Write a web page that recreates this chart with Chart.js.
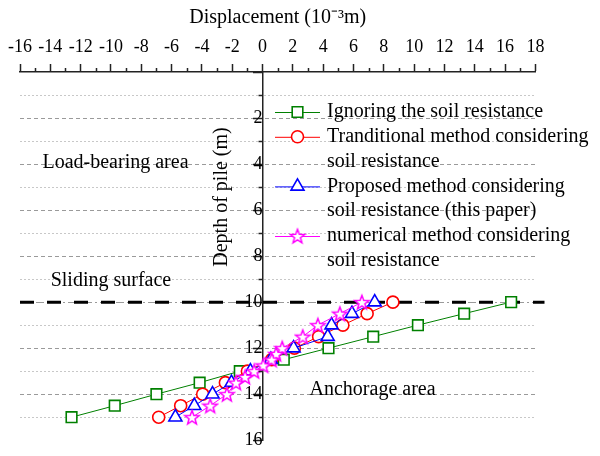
<!DOCTYPE html>
<html>
<head>
<meta charset="utf-8">
<script src="https://cdn.jsdelivr.net/npm/chart.js@4.4.0/dist/chart.umd.min.js"></script>
<style>
  html, body { margin: 0; padding: 0; background: #fff; }
  #wrap { width: 600px; height: 456px; }
</style>
</head>
<body>
<div id="wrap"><canvas id="grafico" width="600" height="456"></canvas></div>
<script>
// === DATA ===
const depthIgnoring = [10, 10.5, 11, 11.5, 12, 12.5, 13, 13.5, 14, 14.5, 15];
const dispIgnoring = [16.4, 13.3, 10.25, 7.3, 4.35, 1.4, -1.5, -4.15, -7.0, -9.75, -12.6];

const depthTraditional = [10, 10.5, 11, 11.5, 12, 12.5, 13, 13.5, 14, 14.5, 15];
const dispTraditional = [8.6, 6.9, 5.3, 3.7, 2.1, 0.6, -1.0, -2.45, -3.95, -5.4, -6.85];

const depthProposed = [10, 10.5, 11, 11.5, 12, 12.5, 13, 13.5, 14, 14.5, 15];
const dispProposed = [7.4, 5.9, 4.55, 4.3, 2.05, 0.55, -0.8, -2.05, -3.3, -4.5, -5.75];

const depthNumerical = [10, 10.5, 11, 11.5, 12, 12.25, 12.5, 12.75, 13, 13.25, 13.5, 14, 14.5, 15];
const dispNumerical = [6.55, 5.1, 3.65, 2.65, 1.3, 0.9, 0.6, 0.05, -0.55, -1.15, -1.75, -2.35, -3.45, -4.65];

const slideDepth = [10, 10];
const slideDisp = [-16, 18.6];

const xTickLabels = [-16, -14, -12, -10, -8, -6, -4, -2, 0, 2, 4, 6, 8, 10, 12, 14, 16, 18];
const yTickLabels = [2, 4, 6, 8, 10, 12, 14, 16];

const seriesLabels = [
  ["Ignoring the soil resistance"],
  ["Tranditional method considering", "soil resistance"],
  ["Proposed method considering", "soil resistance (this paper)"],
  ["numerical method considering", "soil resistance"]
];
const areaLabels = [
  { text: "Load-bearing area", x: -9.7, y: 3.95, align: "center" },
  { text: "Sliding surface", x: -10.0, y: 9.05, align: "center" },
  { text: "Anchorage area", x: 3.1, y: 13.8, align: "left" }
];

// === STYLE ===
const serif = "'Liberation Serif', 'Times New Roman', serif";
const GREEN = "#008000", RED = "#ff0000", BLUE = "#0000ff", MAGENTA = "#ff00ff";

// five-point star used as point style
function makeStar(size, color) {
  const c = document.createElement("canvas");
  c.width = size; c.height = size;
  const g = c.getContext("2d");
  const cx = size / 2, cy = size / 2 + 0.8, ro = size / 2 - 1.5, ri = ro * 0.42;
  g.beginPath();
  for (let i = 0; i < 10; i++) {
    const r = i % 2 === 0 ? ro : ri;
    const a = -Math.PI / 2 + i * Math.PI / 5;
    const px = cx + r * Math.cos(a), py = cy + r * Math.sin(a);
    if (i === 0) g.moveTo(px, py); else g.lineTo(px, py);
  }
  g.closePath();
  g.fillStyle = "#fff";
  g.fill();
  g.lineWidth = 1.5;
  g.strokeStyle = color;
  g.stroke();
  return c;
}
const starImg = makeStar(18, MAGENTA);

const pts = (xs, ys) => xs.map((x, i) => ({ x, y: ys[i] }));

function serie(label, xs, ys, color, style, radius, order) {
  return {
    label, data: pts(xs, ys), showLine: true,
    borderColor: color, borderWidth: 1, backgroundColor: "#fff",
    pointStyle: style, pointRadius: radius, pointHoverRadius: radius,
    pointBorderColor: color, pointBackgroundColor: "#fff", pointBorderWidth: 1.6,
    order
  };
}

const datasets = [
  serie(seriesLabels[0], dispIgnoring, depthIgnoring, GREEN, "rect", 7.5, 4),
  serie(seriesLabels[1], dispTraditional, depthTraditional, RED, "circle", 6, 3),
  serie(seriesLabels[2], dispProposed, depthProposed, BLUE, "triangle", 7.5, 2),
  serie(seriesLabels[3], dispNumerical, depthNumerical, MAGENTA, starImg, 9, 1),
  {
    label: "slide", data: pts(slideDisp, slideDepth), showLine: true,
    borderColor: "#000", borderWidth: 3, borderDash: [14, 13], pointRadius: 0,
    clip: false, order: 5
  }
];

// marker for the legend drawn by hand
function drawMarker(ctx, ds, x, y) {
  const style = ds.pointStyle, r = ds.pointRadius;
  ctx.save();
  ctx.fillStyle = "#fff";
  ctx.strokeStyle = ds.pointBorderColor;
  ctx.lineWidth = ds.pointBorderWidth;
  ctx.beginPath();
  if (style === "rect") {
    const s = r * Math.SQRT1_2;
    ctx.rect(x - s, y - s, 2 * s, 2 * s);
  } else if (style === "circle") {
    ctx.arc(x, y, r, 0, Math.PI * 2);
  } else if (style === "triangle") {
    ctx.moveTo(x, y - r);
    ctx.lineTo(x + r * Math.cos(Math.PI / 6), y + r / 2);
    ctx.lineTo(x - r * Math.cos(Math.PI / 6), y + r / 2);
    ctx.closePath();
  } else {
    ctx.drawImage(style, x - style.width / 2, y - style.height / 2);
    ctx.restore();
    return;
  }
  ctx.fill();
  ctx.stroke();
  ctx.restore();
}

const extras = {
  id: "extras",
  afterDraw(chart) {
    const { ctx, scales: { x, y } } = chart;
    ctx.save();

    // minor ticks
    ctx.strokeStyle = "#222";
    ctx.lineWidth = 1.5;
    ctx.beginPath();
    for (let v = -15; v < 18; v += 2) {
      const px = Math.round(x.getPixelForValue(v)) + 0.5;
      ctx.moveTo(px, x.bottom);
      ctx.lineTo(px, x.bottom - 4);
    }
    const x0 = x.getPixelForValue(0);
    for (let v = 1; v < 16; v += 2) {
      const py = Math.round(y.getPixelForValue(v)) + 0.5;
      ctx.moveTo(x0, py);
      ctx.lineTo(x0 - 4, py);
    }
    ctx.stroke();

    // area labels
    ctx.fillStyle = "#000";
    ctx.font = "20px " + serif;
    ctx.textBaseline = "middle";
    areaLabels.forEach(a => {
      ctx.textAlign = a.align;
      ctx.fillText(a.text, x.getPixelForValue(a.x), y.getPixelForValue(a.y));
    });

    // y axis title
    ctx.save();
    ctx.translate(222, 197);
    ctx.rotate(-Math.PI / 2);
    ctx.textAlign = "center";
    ctx.fillText("Depth of pile (m)", 0, 0);
    ctx.restore();

    // legend
    let ly = 112;
    const lineH = 24.8;
    ctx.textAlign = "left";
    chart.data.datasets.slice(0, 4).forEach(ds => {
      ctx.strokeStyle = ds.borderColor;
      ctx.lineWidth = 1;
      ctx.beginPath();
      ctx.moveTo(275, ly + 0.5);
      ctx.lineTo(320, ly + 0.5);
      ctx.stroke();
      drawMarker(ctx, ds, 297.5, ly);
      ctx.fillStyle = "#000";
      ds.label.forEach((t, i) => ctx.fillText(t, 327, ly + i * lineH));
      ly += ds.label.length * lineH;
    });

    ctx.restore();
  }
};

new Chart(document.getElementById("grafico"), {
  type: "scatter",
  data: { datasets },
  plugins: [extras],
  options: {
    responsive: false,
    animation: false,
    events: [],
    layout: { padding: { left: 20, right: 64.6, top: 0, bottom: 8.5 } },
    plugins: { legend: { display: false }, tooltip: { enabled: false } },
    scales: {
      x: {
        type: "linear", position: "top", min: -16, max: 18,
        afterFit: s => { s.height = 72; },
        ticks: {
          stepSize: 1, autoSkip: false, maxRotation: 0, padding: 6,
          color: "#000", font: { family: serif, size: 18 },
          callback: v => xTickLabels.includes(v) ? String(v) : ""
        },
        grid: {
          drawOnChartArea: false, drawTicks: true, tickLength: 8, tickWidth: 1.5,
          tickColor: c => (c.tick && Math.abs(c.tick.value) % 2 === 1) ? "rgba(0,0,0,0)" : "#222"
        },
        border: { color: "#222", width: 1.5 },
        title: {
          display: true, text: "Displacement (10\u207B\u00B3m)", color: "#000",
          font: { family: serif, size: 20 }, padding: { top: 6, bottom: 0 }
        }
      },
      y: {
        type: "linear", reverse: true, min: 0, max: 16, position: { x: 0 },
        ticks: {
          stepSize: 1, autoSkip: false, padding: 5,
          color: "#000", font: { family: serif, size: 18 },
          callback: v => yTickLabels.includes(v) ? String(v) : ""
        },
        grid: {
          lineWidth: 1, tickLength: 9, tickWidth: 1.5,
          color: c => {
            const v = c.tick ? c.tick.value : 0;
            if (v === 0 || v === 16) return "rgba(0,0,0,0)";
            return v % 2 === 1 ? "#c8c8c8" : "#9a9a9a";
          },
          tickColor: c => (c.tick && c.tick.value % 2 === 1) ? "rgba(0,0,0,0)" : "#222"
        },
        border: {
          color: "#222", width: 1.5,
          dash: c => {
            const v = c.tick ? c.tick.value : 0;
            if (v === 10) return [8, 3, 2, 3];
            return v % 2 === 1 ? [2, 2] : [4, 3];
          }
        }
      }
    }
  }
});
</script>
</body>
</html>
